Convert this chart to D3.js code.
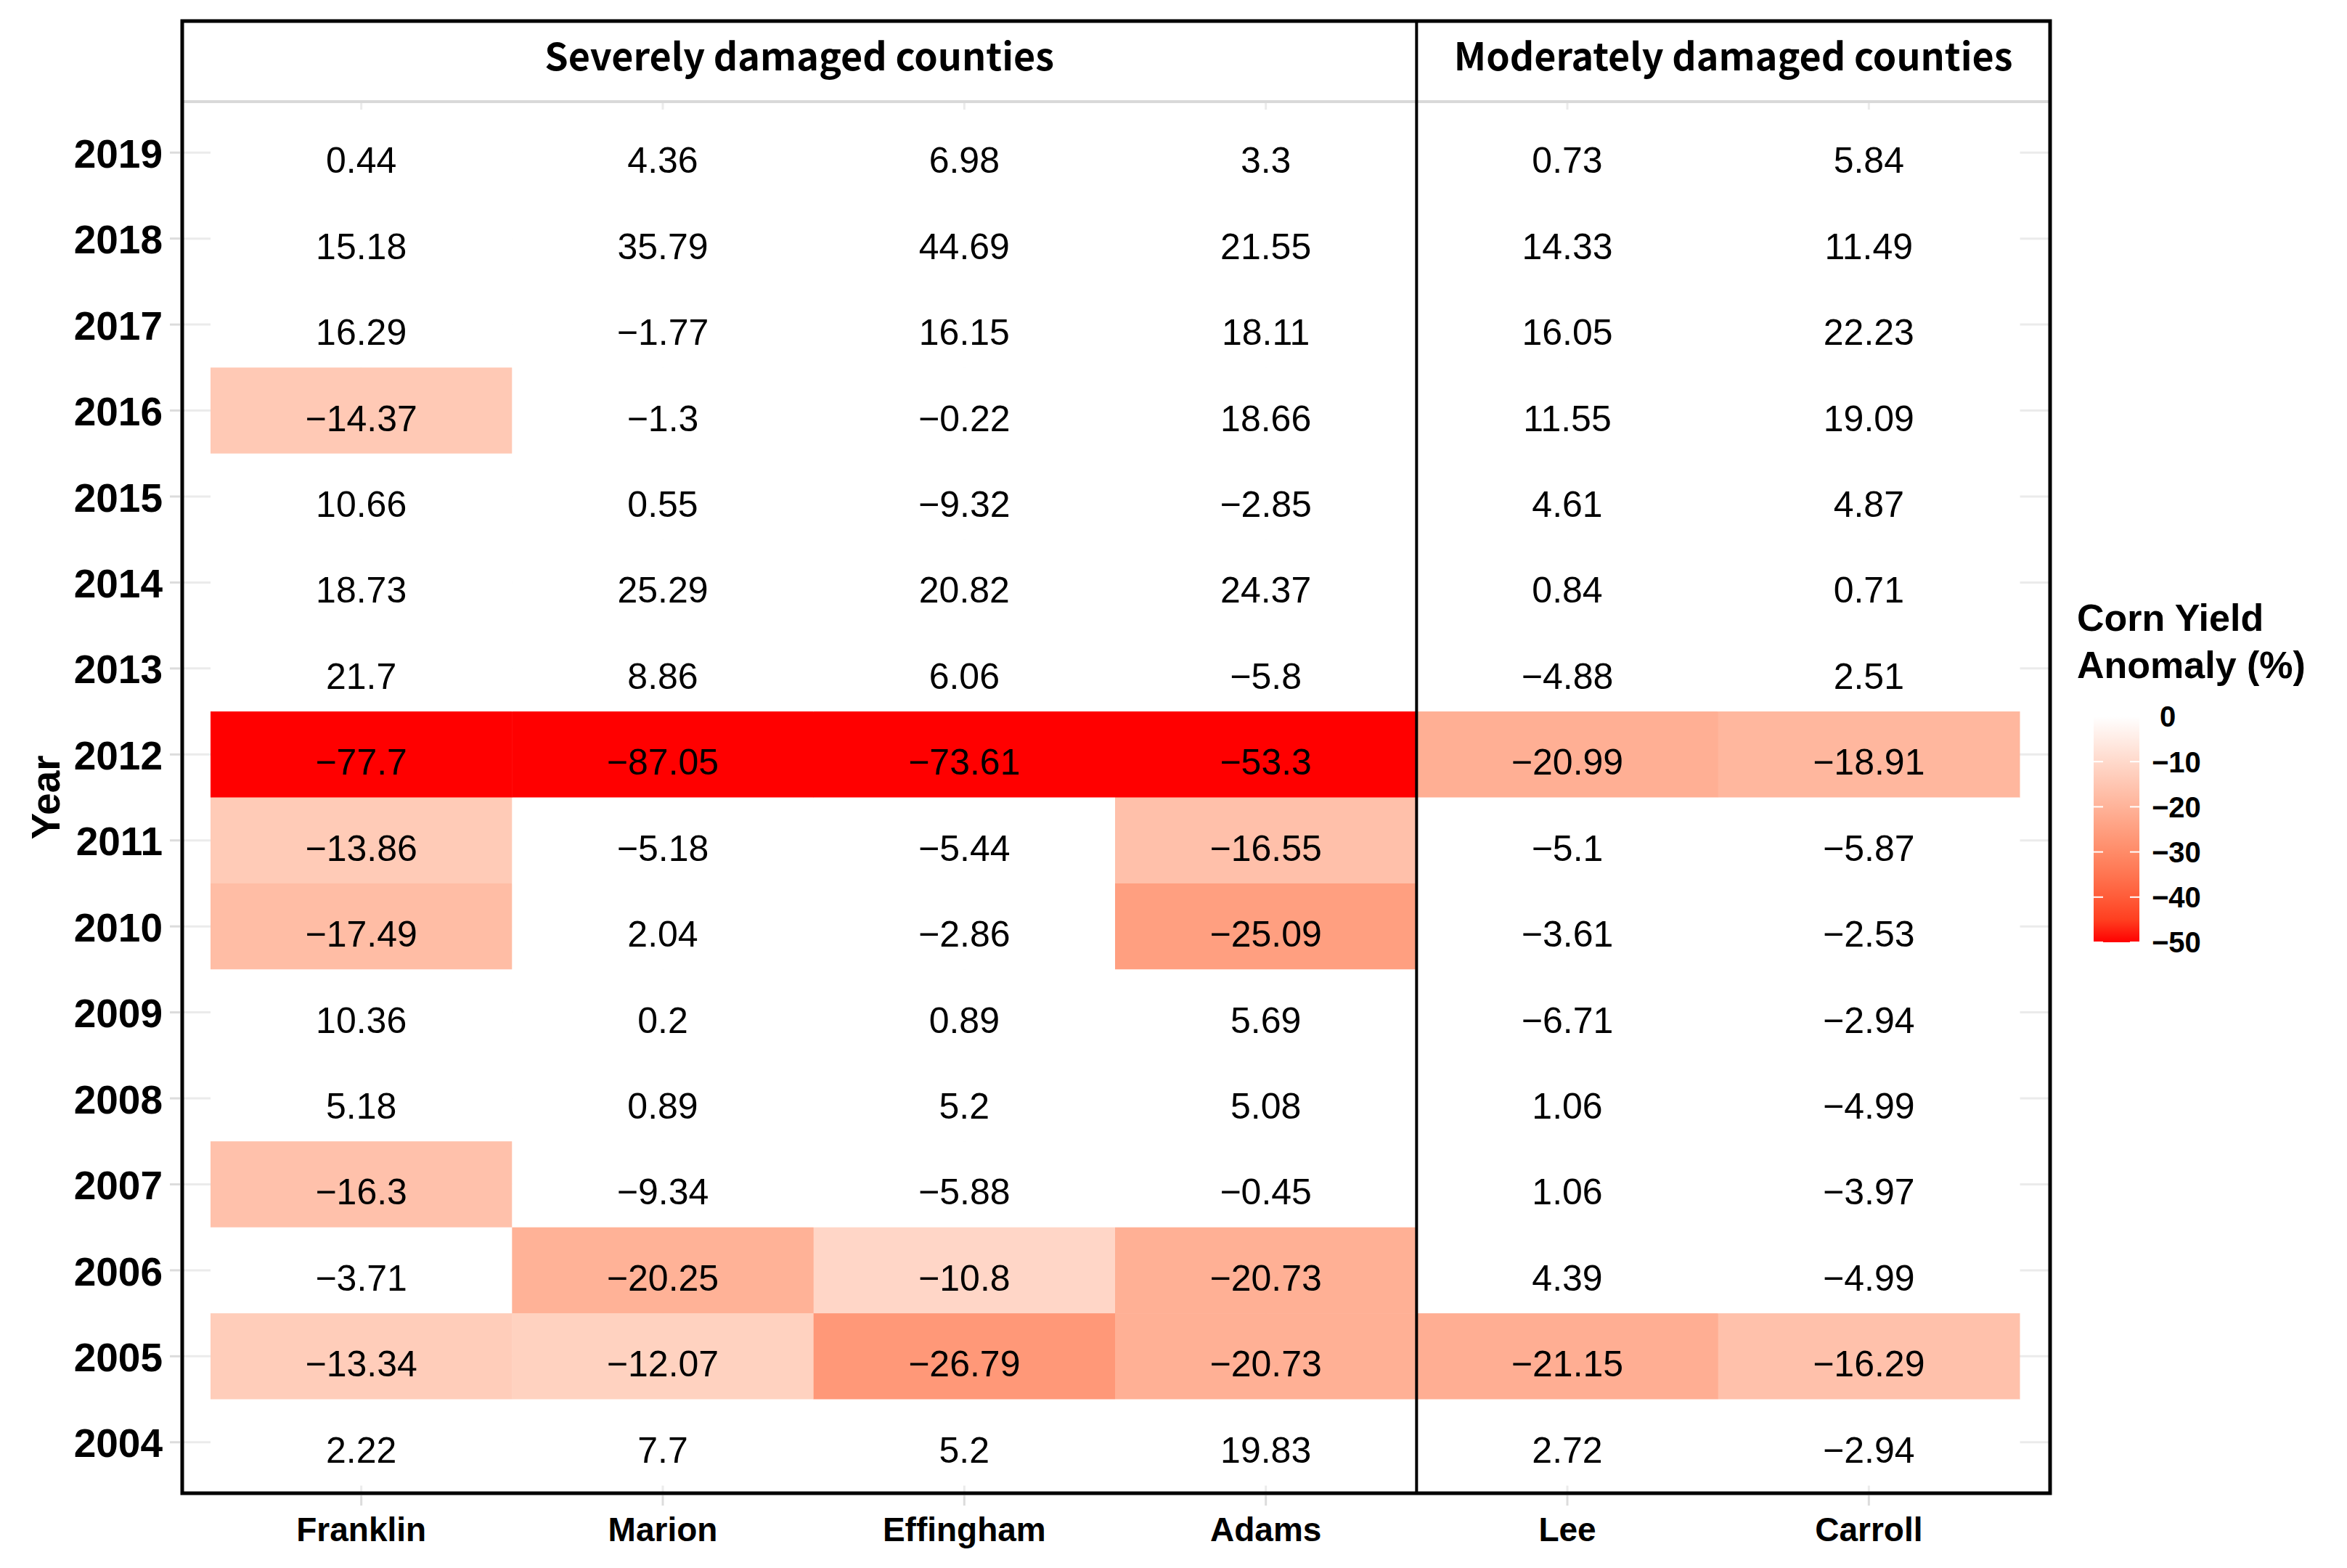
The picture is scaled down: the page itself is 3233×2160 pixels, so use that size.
<!DOCTYPE html>
<html>
<head>
<meta charset="utf-8">
<script src="https://cdn.jsdelivr.net/npm/d3@7"></script>
<style>
  body { margin: 0; background: #fff; }
  text { font-family: "Liberation Sans", Arial, sans-serif; }
</style>
</head>
<body>
<script>
const w = 3233;
const h = 2160;

// data, rows from 2019 down to 2004
const years = ["2019","2018","2017","2016","2015","2014","2013","2012","2011","2010","2009","2008","2007","2006","2005","2004"];
const counties = ["Franklin", "Marion", "Effingham", "Adams", "Lee", "Carroll"];
const severe = ["Franklin", "Marion", "Effingham", "Adams"];
const moderate = ["Lee", "Carroll"];
const groupLabels = ["Severely damaged counties", "Moderately damaged counties"];

const franklin  = [0.44, 15.18, 16.29, -14.37, 10.66, 18.73, 21.7, -77.7, -13.86, -17.49, 10.36, 5.18, -16.3, -3.71, -13.34, 2.22];
const marion    = [4.36, 35.79, -1.77, -1.3, 0.55, 25.29, 8.86, -87.05, -5.18, 2.04, 0.2, 0.89, -9.34, -20.25, -12.07, 7.7];
const effingham = [6.98, 44.69, 16.15, -0.22, -9.32, 20.82, 6.06, -73.61, -5.44, -2.86, 0.89, 5.2, -5.88, -10.8, -26.79, 5.2];
const adams     = [3.3, 21.55, 18.11, 18.66, -2.85, 24.37, -5.8, -53.3, -16.55, -25.09, 5.69, 5.08, -0.45, -20.73, -20.73, 19.83];
const lee       = [0.73, 14.33, 16.05, 11.55, 4.61, 0.84, -4.88, -20.99, -5.1, -3.61, -6.71, 1.06, 1.06, 4.39, -21.15, 2.72];
const carroll   = [5.84, 11.49, 22.23, 19.09, 4.87, 0.71, 2.51, -18.91, -5.87, -2.53, -2.94, -4.99, -3.97, -4.99, -16.29, -2.94];

const legendTicks = [0, -10, -20, -30, -40, -50];
const damageCut = -10; // only anomalies below -10% are shaded

const seriesByCounty = { Franklin: franklin, Marion: marion, Effingham: effingham, Adams: adams, Lee: lee, Carroll: carroll };

let cells = [];
counties.forEach(c => {
  seriesByCounty[c].forEach((v, i) => cells.push({ county: c, year: years[i], value: v }));
});

const fmt = v => String(v).replace("-", "\u2212");

// panel frame
const box = { left: 251, right: 2824, top: 29, bottom: 2057, strip: 140 };

let svg = d3.select("body")
  .append("svg")
  .attr("width", w)
  .attr("height", h);

let xScale = d3.scaleBand()
  .domain(counties)
  .range([290, 2782]);

let yScale = d3.scaleBand()
  .domain(years)
  .range([151, 2046]);

let colorScale = d3.scaleLinear()
  .domain([-50, 0])
  .range(["#ff0000", "#ffffff"])
  .interpolate(d3.interpolateLab)
  .clamp(true);

const fillOf = v => v <= damageCut ? colorScale(v) : "#ffffff";

// grid lines behind the tiles
svg.append("g").selectAll("line")
  .data(years)
  .enter()
  .append("line")
  .attr("x1", box.left)
  .attr("x2", box.right)
  .attr("y1", d => yScale(d) + yScale.bandwidth() / 2)
  .attr("y2", d => yScale(d) + yScale.bandwidth() / 2)
  .attr("stroke", "#ebebeb")
  .attr("stroke-width", 3);

svg.append("g").selectAll("line")
  .data(counties)
  .enter()
  .append("line")
  .attr("x1", d => xScale(d) + xScale.bandwidth() / 2)
  .attr("x2", d => xScale(d) + xScale.bandwidth() / 2)
  .attr("y1", box.strip)
  .attr("y2", box.bottom)
  .attr("stroke", "#ebebeb")
  .attr("stroke-width", 3);

// tiles
svg.append("g").selectAll("rect")
  .data(cells)
  .enter()
  .append("rect")
  .attr("x", d => xScale(d.county))
  .attr("y", d => yScale(d.year))
  .attr("width", xScale.bandwidth() + 0.5)
  .attr("height", yScale.bandwidth() + 0.5)
  .attr("fill", d => fillOf(d.value));

// cell labels, sitting a little below the row centre as in the original
svg.append("g").selectAll("text")
  .data(cells)
  .enter()
  .append("text")
  .attr("x", d => xScale(d.county) + xScale.bandwidth() / 2)
  .attr("y", d => yScale(d.year) + yScale.bandwidth() / 2 + 10)
  .attr("dy", "0.36em")
  .attr("text-anchor", "middle")
  .attr("font-size", 50)
  .attr("fill", "#000")
  .text(d => fmt(d.value));

// header strip
svg.append("line")
  .attr("x1", box.left).attr("x2", box.right)
  .attr("y1", box.strip).attr("y2", box.strip)
  .attr("stroke", "#d9d9d9")
  .attr("stroke-width", 4);

const divider = xScale(moderate[0]);
const groupSpans = [[box.left, divider], [divider, box.right]];
svg.append("g").selectAll("text")
  .data(groupLabels)
  .enter()
  .append("text")
  .attr("x", (d, i) => (groupSpans[i][0] + groupSpans[i][1]) / 2)
  .attr("y", 97)
  .attr("text-anchor", "middle")
  .style("font-family", '"Noto Sans CJK KR", "Noto Sans", sans-serif')
  .attr("font-weight", "bold")
  .attr("font-size", 52)
  .text(d => d);

// frame and divider
svg.append("rect")
  .attr("x", box.left).attr("y", box.top)
  .attr("width", box.right - box.left)
  .attr("height", box.bottom - box.top)
  .attr("fill", "none")
  .attr("stroke", "#000")
  .attr("stroke-width", 5);

svg.append("line")
  .attr("x1", divider).attr("x2", divider)
  .attr("y1", box.top).attr("y2", box.bottom)
  .attr("stroke", "#000")
  .attr("stroke-width", 4);

// axes
let yAxis = d3.axisLeft(yScale).tickSize(14).tickPadding(10);
let yG = svg.append("g")
  .attr("transform", "translate(" + (box.left - 3) + ",0)")
  .call(yAxis);
yG.select(".domain").remove();
yG.selectAll("line").attr("stroke", "#dcdcdc").attr("stroke-width", 3);
yG.selectAll("text")
  .attr("font-size", 55)
  .attr("font-weight", "bold")
  .attr("fill", "#000")
  .attr("y", 3)
  .style("font-family", '"Liberation Sans", Arial, sans-serif');

let xAxis = d3.axisBottom(xScale).tickSize(14).tickPadding(16);
let xG = svg.append("g")
  .attr("transform", "translate(0," + (box.bottom + 3) + ")")
  .call(xAxis);
xG.select(".domain").remove();
xG.selectAll("line").attr("stroke", "#dcdcdc").attr("stroke-width", 3);
xG.selectAll("text")
  .attr("font-size", 46)
  .attr("font-weight", "bold")
  .attr("fill", "#000")
  .style("font-family", '"Liberation Sans", Arial, sans-serif');

svg.append("text")
  .attr("transform", "translate(82," + ((yScale.range()[0] + yScale.range()[1]) / 2) + ") rotate(-90)")
  .attr("text-anchor", "middle")
  .attr("font-size", 55)
  .attr("font-weight", "bold")
  .text("Year");

// legend
const legX = 2884, legW = 63;
let legScale = d3.scaleLinear()
  .domain([0, -50])
  .range([987, 1298]);

let defs = svg.append("defs");
let grad = defs.append("linearGradient")
  .attr("id", "legGrad")
  .attr("x1", 0).attr("x2", 0)
  .attr("y1", 0).attr("y2", 1);
d3.range(0, 11).forEach(i => {
  grad.append("stop")
    .attr("offset", (i * 10) + "%")
    .attr("stop-color", colorScale(-5 * i));
});

svg.append("rect")
  .attr("x", legX)
  .attr("y", legScale(0))
  .attr("width", legW)
  .attr("height", legScale(-50) - legScale(0))
  .attr("fill", "url(#legGrad)");

let legTickG = svg.append("g");
legendTicks.forEach(t => {
  legTickG.append("line")
    .attr("x1", legX).attr("x2", legX + 13)
    .attr("y1", legScale(t)).attr("y2", legScale(t))
    .attr("stroke", "#fff").attr("stroke-width", 2);
  legTickG.append("line")
    .attr("x1", legX + legW - 13).attr("x2", legX + legW)
    .attr("y1", legScale(t)).attr("y2", legScale(t))
    .attr("stroke", "#fff").attr("stroke-width", 2);
});

svg.append("g").selectAll("text")
  .data(legendTicks)
  .enter()
  .append("text")
  .attr("x", d => d === 0 ? 2975 : 2964)
  .attr("y", d => legScale(d))
  .attr("dy", "0.36em")
  .attr("font-size", 40)
  .attr("font-weight", "bold")
  .text(d => fmt(d));

svg.append("text")
  .attr("x", 2861)
  .attr("y", 869)
  .attr("font-size", 52)
  .attr("font-weight", "bold")
  .text("Corn Yield");
svg.append("text")
  .attr("x", 2861)
  .attr("y", 934)
  .attr("font-size", 52)
  .attr("font-weight", "bold")
  .text("Anomaly (%)");
</script>
</body>
</html>
